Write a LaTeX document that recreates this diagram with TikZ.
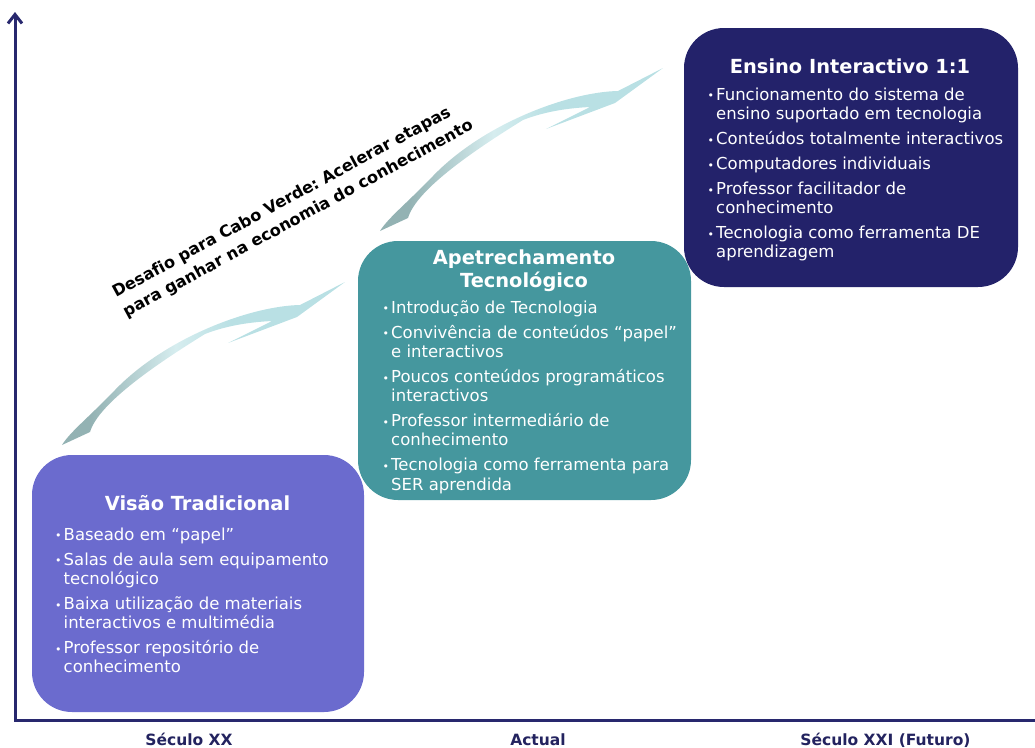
\documentclass[tikz,border=0pt]{standalone}
\usepackage{fontspec}
\setmainfont{DejaVu Sans}[Ligatures=NoCommon]
\usetikzlibrary{arrows.meta}
\frenchspacing

\definecolor{axisblue}{HTML}{28286E}
\definecolor{labelblue}{HTML}{23235F}
\definecolor{tradfill}{HTML}{6B6BCE}
\definecolor{techfill}{HTML}{45979E}
\definecolor{interfill}{HTML}{23226A}
\definecolor{swA}{HTML}{93B2B3}
\definecolor{swB}{HTML}{D6EDEF}
\definecolor{swC}{HTML}{B9E0E4}

\pgfdeclarehorizontalshading{swooshshade}{100bp}{%
  color(0bp)=(swA); color(30bp)=(swA); color(45bp)=(swB);
  color(55bp)=(swC); color(100bp)=(swC)}

% list helpers
\newcommand{\bul}{\makebox[8.5pt][l]{\raisebox{0.3pt}{\fontsize{11}{11}\selectfont •}}}
\newcommand{\itm}[1]{\par\noindent\hangindent=8.5pt\hangafter=1\bul#1}
\newcommand{\gap}{\par\vskip 5.7pt}
\newcommand{\itemlist}[1]{\parbox[t]{330pt}{\raggedright
  \fontsize{16.5}{19.3}\selectfont #1}}

\tikzset{
  stagebox/.style={rounded corners=40pt, inner sep=0pt, draw=none},
  stagetitle/.style={text=white, inner sep=0pt, anchor=base,
    font=\fontsize{19.4}{22.7}\selectfont\bfseries},
  stagelist/.style={text=white, inner sep=0pt, anchor=base west},
  axisline/.style={draw=axisblue, line width=3pt, line join=miter},
  eralabel/.style={text=labelblue, inner sep=0pt, anchor=base,
    font=\fontsize{15.5}{18}\selectfont\bfseries},
  swoosh/.pic={
    \shade[shading=swooshshade]
      (345,282) -- (300,305)
      .. controls (250,306) and (165,338) .. (115,390)
      .. controls (88,418) and (70,432) .. (62,445)
      -- (90,432)
      .. controls (98,405) and (150,368) .. (205,334)
      .. controls (228,325) and (252,322) .. (272,321)
      -- (228,343) -- (297,317) -- cycle;
  }
}

\begin{document}
\begin{tikzpicture}[x=1pt, y=-1pt]
\useasboundingbox (0,0) rectangle (1035,747);

% axes
\coordinate (origin) at (15,720);
\coordinate (ytop) at (15,12);
\coordinate (xend) at (1035,720);
\draw[axisline, {Straight Barb[length=9pt,width=14pt]}-] (ytop) -- (origin) -- (xend);

% rising swooshes between the stages
\pic at (0,0) {swoosh};
\pic at (318,-214) {swoosh};

% stage boxes
\node[stagebox, fill=techfill, minimum width=333pt, minimum height=259pt] (tech) at (524.5,370.5) {};
\node[stagebox, fill=tradfill, minimum width=332pt, minimum height=257pt] (trad) at (198,583.5) {};
\node[stagebox, fill=interfill, minimum width=334pt, minimum height=259pt] (inter) at (851,157.5) {};

% Visão Tradicional
\node[stagetitle] (tradtitle) at (197.5,510) {Visão Tradicional};
\node[stagelist] (tradlist) at (55,540) {\itemlist{%
  \itm{Baseado em “papel”}\gap
  \itm{Salas de aula sem equipamento\newline tecnológico}\gap
  \itm{Baixa utilização de materiais\newline interactivos e multimédia}\gap
  \itm{Professor repositório de\newline conhecimento}}};

% Apetrechamento Tecnológico
\node[stagetitle] (techtitle) at (524,264.7) {\parbox[t]{320pt}{\centering
  \fontsize{19.4}{22.7}\selectfont\bfseries Apetrechamento\\Tecnológico}};
\node[stagelist] (techlist) at (382.5,313) {\itemlist{%
  \itm{Introdução de Tecnologia}\gap
  \itm{Convivência de conteúdos “papel”\newline e interactivos}\gap
  \itm{Poucos conteúdos programáticos\newline interactivos}\gap
  \itm{Professor intermediário de\newline conhecimento}\gap
  \itm{Tecnologia como ferramenta para\newline SER aprendida}}};

% Ensino Interactivo 1:1
\node[stagetitle] (intertitle) at (850,73.3) {Ensino Interactivo 1:1};
\node[stagelist] (interlist) at (707.5,100) {\itemlist{%
  \itm{Funcionamento do sistema de\newline ensino suportado em tecnologia}\gap
  \itm{Conteúdos totalmente interactivos}\gap
  \itm{Computadores individuais}\gap
  \itm{Professor facilitador de\newline conhecimento}\gap
  \itm{Tecnologia como ferramenta DE\newline aprendizagem}}};

% slanted challenge text
\node[anchor=base west, inner sep=0pt, rotate=28.5] (challenge) at (116,298)
  {\parbox[t]{420pt}{\raggedright\fontsize{16.2}{22}\selectfont\bfseries
   Desafio para Cabo Verde: Acelerar etapas\\
   para ganhar na economia do conhecimento}};

% era labels
\node[eralabel] (era20) at (189,745) {Século XX};
\node[eralabel] (eranow) at (538,745) {Actual};
\node[eralabel] (era21) at (885.5,745) {Século XXI (Futuro)};
\end{tikzpicture}
\end{document}
